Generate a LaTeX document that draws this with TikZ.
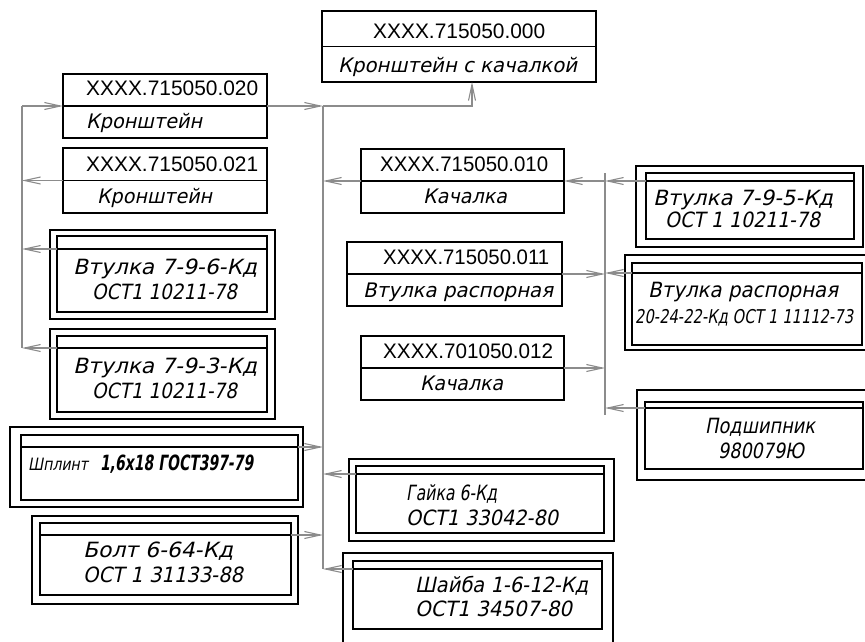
\documentclass[tikz,border=0pt]{standalone}
\usepackage{fontspec}
\usepackage{graphicx}
\setmainfont{Liberation Sans}
\newfontfamily\gost[FakeSlant=0.22]{DejaVu Sans}
\usetikzlibrary{arrows.meta}
\newlength\fitlen
\newcommand\fitto[2]{\settowidth\fitlen{#2}\pgfmathsetmacro\fitfac{#1/\fitlen}\scalebox{\fitfac}[1]{#2}}
\tikzset{
 box/.style={draw=black, line width=1.6pt, inner sep=0pt, outer sep=0pt},
 hdr/.style={draw=black, line width=1.3pt},
 conn/.style={draw=black!45, line width=1.1pt},
 arr/.style={conn, -{Straight Barb[length=16pt,width=7pt]}},
 code/.style={font=\fontsize{21}{21}\selectfont, inner sep=0pt, anchor=base west},
 nm/.style={font=\gost\fontsize{20}{20}\selectfont, inner sep=0pt, anchor=base west},
 dt/.style={font=\gost\fontsize{21}{21}\selectfont, inner sep=0pt, anchor=base west},
}
\begin{document}
\begin{tikzpicture}[x=1pt,y=-1pt]
\useasboundingbox (0,0) rectangle (865,641);
\fill[white] (0,0) rectangle (865,641);
% simple two-row boxes
\node[box, minimum width=274pt, minimum height=71pt] (k000) at (459,46.5) {};
\node[box, minimum width=204pt, minimum height=64pt] (k020) at (165,106) {};
\node[box, minimum width=204pt, minimum height=65pt] (k021) at (165,180.5) {};
\node[box, minimum width=203pt, minimum height=64pt] (k010) at (462.5,181) {};
\node[box, minimum width=215pt, minimum height=64pt] (k011) at (454.5,274) {};
\node[box, minimum width=203pt, minimum height=64pt] (k012) at (462.5,368) {};
\foreach \b in {k000,k020,k021,k010,k011,k012}{\draw[box] (\b.west) -- (\b.east);}
% double boxes
\node[box, minimum width=225pt, minimum height=89pt] (o796) at (162.5,274.5) {};
\node[box, minimum width=210pt, minimum height=76pt] (i796) at (162,274) {};
\node[box, minimum width=225pt, minimum height=90pt] (o793) at (162.5,374) {};
\node[box, minimum width=210pt, minimum height=76pt] (i793) at (162,374) {};
\node[box, minimum width=293pt, minimum height=80pt] (oshp) at (156.5,467) {};
\node[box, minimum width=277pt, minimum height=65pt] (ishp) at (159.5,467.5) {};
\node[box, minimum width=266pt, minimum height=88pt] (obol) at (165,560) {};
\node[box, minimum width=251pt, minimum height=72pt] (ibol) at (165.5,559) {};
\node[box, minimum width=265pt, minimum height=82pt] (ogai) at (481.5,500) {};
\node[box, minimum width=248pt, minimum height=67pt] (igai) at (480,499.5) {};
\node[box, minimum width=270pt, minimum height=107pt] (oshb) at (478,606.5) {};
\node[box, minimum width=249pt, minimum height=68pt] (ishb) at (477.5,595) {};
\node[box, minimum width=227pt, minimum height=81pt] (o795) at (749.5,206.5) {};
\node[box, minimum width=208pt, minimum height=66pt] (i795) at (750,206) {};
\node[box, minimum width=243pt, minimum height=95pt] (oras) at (746.5,302.5) {};
\node[box, minimum width=230pt, minimum height=82pt] (iras) at (747,304) {};
\node[box, minimum width=233pt, minimum height=90pt] (opod) at (753.5,435) {};
\node[box, minimum width=218pt, minimum height=67pt] (ipod) at (754,435.5) {};
% header lines
\coordinate (h796) at (57,249);
\coordinate (h793) at (57,348);
\coordinate (hshp) at (21,447);
\coordinate (hbol) at (40,535);
\coordinate (hgai) at (356,474);
\coordinate (hshb) at (353,569);
\coordinate (h795) at (646,181);
\coordinate (hras) at (632,273);
\coordinate (hpod) at (645,408);
\draw[hdr] (h796) -- (h796 -| i796.east);
\draw[hdr] (h793) -- (h793 -| i793.east);
\draw[hdr] (hshp) -- (hshp -| ishp.east);
\draw[hdr] (hbol) -- (hbol -| ibol.east);
\draw[hdr] (hgai) -- (hgai -| igai.east);
\draw[hdr] (hshb) -- (hshb -| ishb.east);
\draw[hdr] (h795) -- (h795 -| i795.east);
\draw[hdr] (hras) -- (hras -| iras.east);
\draw[hdr] (hpod) -- (hpod -| ipod.east);
% connector trunks
\coordinate (L1) at (22,106);
\coordinate (L2) at (22,348);
\coordinate (M1) at (323,106);
\coordinate (M2) at (323,569);
\coordinate (R1) at (605,173);
\coordinate (R2) at (605,415);
\coordinate (T) at (472,106);
\draw[conn] (L1) -- (L2);
\draw[conn] (M1) -- (M2);
\draw[conn] (R1) -- (R2);
% connectors
\draw[arr] (L1) -- (k020.west);
\draw[arr] (k020.east) -- (M1);
\draw[arr] (k021.west) -- (k021.west -| L1);
\draw[arr] (h796) -- (h796 -| L1);
\draw[arr] (h793) -- (h793 -| L1);
\draw[arr] (M1) -- (T) -- (T |- k000.south);
\draw[arr] (k010.west) -- (k010.west -| M1);
\draw[arr] (hshp -| ishp.east) -- (hshp -| M1);
\draw[arr] (hgai) -- (hgai -| M1);
\draw[arr] (hbol -| ibol.east) -- (hbol -| M1);
\draw[arr] (hshb) -- (hshb -| M1);
\draw[arr] (h795) -- (h795 -| R1);
\draw[arr] (h795 -| R1) -- (k010.east);
\draw[arr] (k011.east) -- (k011.east -| R1);
\draw[arr] (hras) -- (hras -| R1);
\draw[arr] (k012.east) -- (k012.east -| R1);
\draw[arr] (hpod) -- (hpod -| R1);
% texts
\node[code] (c000) at (373,38) {\fitto{172}{XXXX.715050.000}};
\node[nm] (n000) at (338,72) {\fitto{239}{Кронштейн с качалкой}};
\node[code] (c020) at (86,95) {\fitto{172}{XXXX.715050.020}};
\node[nm] (n020) at (86,128) {\fitto{116}{Кронштейн}};
\node[code] (c021) at (86,171) {\fitto{172}{XXXX.715050.021}};
\node[nm] (n021) at (97,203) {\fitto{115}{Кронштейн}};
\node[code] (c010) at (380,171) {\fitto{168}{XXXX.715050.010}};
\node[nm] (n010) at (423,203) {\fitto{84}{Качалка}};
\node[code] (c011) at (383,264) {\fitto{166}{XXXX.715050.011}};
\node[nm] (n011) at (363,297) {\fitto{190}{Втулка распорная}};
\node[code] (c012) at (383,358) {\fitto{170}{XXXX.701050.012}};
\node[nm] (n012) at (420,390) {\fitto{83}{Качалка}};
\node[dt] (a796) at (73,274) {\fitto{184}{Втулка 7-9-6-Кд}};
\node[dt] (b796) at (92,299) {\fitto{145}{ОСТ1 10211-78}};
\node[dt] (a793) at (73,373) {\fitto{184}{Втулка 7-9-3-Кд}};
\node[dt] (b793) at (92,398) {\fitto{145}{ОСТ1 10211-78}};
\node[dt, font=\gost\fontsize{17}{17}\selectfont] (ashp) at (28,470) {\fitto{60}{Шплинт}};
\node[dt, font=\gost\bfseries\fontsize{21}{21}\selectfont] (bshp) at (100,470) {\fitto{153}{1,6x18 ГОСТ397-79}};
\node[dt] (abol) at (83,557) {\fitto{150}{Болт 6-64-Кд}};
\node[dt] (bbol) at (83,582) {\fitto{160}{ОСТ 1 31133-88}};
\node[dt] (agai) at (406,500) {\fitto{91}{Гайка 6-Кд}};
\node[dt] (bgai) at (406,525) {\fitto{152}{ОСТ1 33042-80}};
\node[dt] (ashb) at (415,592) {\fitto{173}{Шайба 1-6-12-Кд}};
\node[dt] (bshb) at (415,616) {\fitto{157}{ОСТ1 34507-80}};
\node[dt] (a795) at (653,205) {\fitto{180}{Втулка 7-9-5-Кд}};
\node[dt] (b795) at (665,227) {\fitto{155}{ОСТ 1 10211-78}};
\node[dt] (aras) at (648,297) {\fitto{190}{Втулка распорная}};
\node[dt, font=\gost\fontsize{19}{19}\selectfont] (bras) at (635,323) {\fitto{218}{20-24-22-Кд ОСТ 1 11112-73}};
\node[dt] (apod) at (705,433) {\fitto{110}{Подшипник}};
\node[dt] (bpod) at (718,458) {\fitto{86}{980079Ю}};
\end{tikzpicture}
\end{document}
